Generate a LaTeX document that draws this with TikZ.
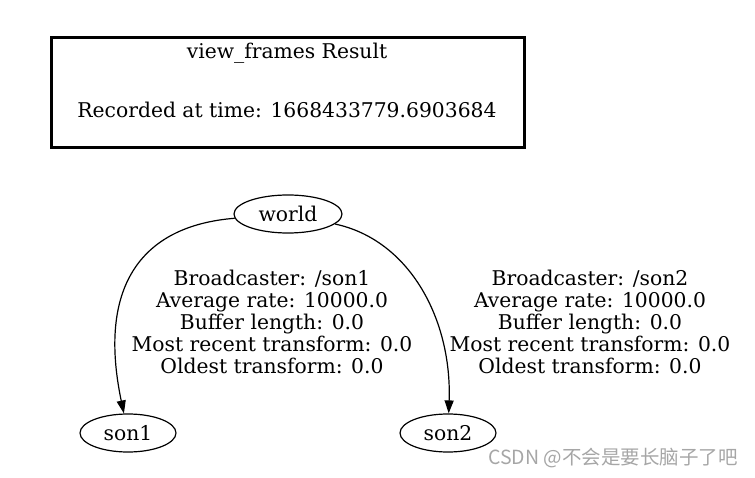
\documentclass[tikz,border=0pt]{standalone}
\usepackage{fontspec}
\setmainfont{DejaVu Serif}
\newfontfamily\cjkmark{Noto Sans CJK SC}
\usetikzlibrary{arrows.meta,shapes.geometric}

\tikzset{
  frame/.style={ellipse, draw, line width=1.2pt, minimum width=#1, minimum height=38pt, inner sep=0pt, font=\fontsize{20.3}{22}\selectfont},
  tflabel/.style={align=center, font=\fontsize{20.3}{22}\selectfont},
  tfedge/.style={-{Triangle[length=13pt,width=9pt]}, line width=1.2pt}
}

\begin{document}
\begin{tikzpicture}[x=1pt, y=-1pt]
	\useasboundingbox (0,0) rectangle (755,478);

	\draw[line width=3pt] (51,38) rectangle (524,148);
	\node[tflabel] (title) at (287,53) {view\_frames Result};
	\node[tflabel] (stamp) at (287,110) {Recorded at time: 1668433779.6903684};

	\node[frame=108pt] (world) at (288,214) {world};
	\node[frame=96pt] (son1) at (128,433) {son1};
	\node[frame=96pt] (son2) at (448,433) {son2};

	\draw[tfedge] (world) .. controls (138,226) and (98,290) .. (son1);
	\draw[tfedge] (world) .. controls (410,240) and (452,320) .. (son2);

	\node[tflabel] (info1) at (272,322) {Broadcaster: /son1\\Average rate: 10000.0\\Buffer length: 0.0\\Most recent transform: 0.0\\Oldest transform: 0.0};
	\node[tflabel] (info2) at (590,322) {Broadcaster: /son2\\Average rate: 10000.0\\Buffer length: 0.0\\Most recent transform: 0.0\\Oldest transform: 0.0};

	\node[text=gray!70, font=\cjkmark\fontsize{19.5}{22}\selectfont] (mark) at (613,458) {CSDN @不会是要长脑子了吧};
\end{tikzpicture}
\end{document}
